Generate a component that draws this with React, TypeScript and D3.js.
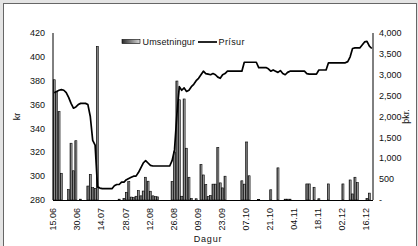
import React from 'react';
import * as d3 from 'd3';

const tickLabels = ['15.06','30.06','14.07','28.07','12.08','26.08','09.09','23.09','07.10','21.10','04.11','18.11','02.12','16.12'];
const leftTicks = [280,300,320,340,360,380,400,420];
const rightTicks = [0,500,1000,1500,2000,2500,3000,3500,4000];

const price = [
  370,371,372,372.5,372,370,366,361,357,358,
  360,361,361,361,360,350,330,326,291,290,
  289.5,289.5,289.5,289.5,289.5,292,293,293,295,295,
  297,298,299,300,300,303,307,311,313,311,
  309,308.5,308.5,308.5,308.5,308.5,308.5,308.5,308.5,313,
  322,352,375,372,374,371,372,375,377,380,
  382,385,388,386,385.5,385,386,385,383,382,
  385,386,388,388,388,388,388,388,388,395.5,
  395.5,395.5,395.5,395.5,395.5,391,391,391,391,390,
  388,389,388,387,388.5,386,385,387,388,388,
  388,388,388,388,388,386,385.5,385.5,385.5,385.5,
  389,389,389,389,395,395,395,395,395,395,
  395,395,396,400,407,407.5,407.5,407.5,410,412.5,
  413,409,407
];

const volume = [
  2880,2600,2115,640,0,0,250,1360,700,1420,
  0,20,0,0,335,615,295,280,3680,0,
  0,0,0,0,0,0,0,20,0,40,
  185,440,70,60,90,225,100,215,545,450,
  210,100,80,75,0,0,0,0,0,440,
  1150,2850,2400,90,2420,1240,545,40,0,30,
  0,850,600,370,80,110,380,380,1260,410,
  290,570,0,0,0,0,0,0,460,380,
  1390,580,0,0,0,15,0,0,0,0,
  245,0,0,770,0,0,20,20,20,0,
  0,0,0,0,0,385,385,0,305,0,
  30,0,0,0,385,0,0,0,0,0,
  385,0,0,480,145,545,415,0,0,0,
  40,165,0
];

const FONT = "'Liberation Sans', Arial, sans-serif";

export default function App() {
  const W = 418, H = 246;
  const left = 53, right = 373, top = 33, bottom = 200;
  const idx = d3.range(price.length);
  const x = d3.scaleBand<number>().domain(idx).range([left, right]).padding(0);
  const bw = x.bandwidth();
  const cx = (i: number) => (x(i) as number) + bw / 2;
  const yL = d3.scaleLinear().domain([280, 420]).range([bottom, top]);
  const yR = d3.scaleLinear().domain([0, 4000]).range([bottom, top]);
  const line = d3.line<number>().x((_, i) => cx(i)).y(d => yL(d));
  const fmt = d3.format(',');
  const barW = bw * 0.85;

  return (
    <svg width={W} height={H} style={{ position: 'absolute', left: 0, top: 0 }} fontFamily={FONT}>
      <defs>
        <linearGradient id="barGrad" x1="0" y1="0" x2="1" y2="0">
          <stop offset="0" stopColor="#2a2a2a" />
          <stop offset="1" stopColor="#d8d8d8" />
        </linearGradient>
      </defs>
      <rect x={0} y={0} width={W} height={H} fill="#e4e4e4" />
      <rect x={3.5} y={3.5} width={413} height={252} fill="#fff" stroke="#666" strokeWidth={1} />

      {/* volume bars */}
      {volume.map((v, i) => v > 0 ? (
        <rect key={i} x={cx(i) - barW / 2} y={yR(v)} width={barW} height={bottom - yR(v)}
          fill="url(#barGrad)" stroke="#000" strokeWidth={0.6} />
      ) : null)}

      {/* price line */}
      <path d={line(price) || ''} fill="none" stroke="#000" strokeWidth={1.7} strokeLinejoin="round" />

      {/* axes */}
      <line x1={left} x2={left} y1={top} y2={bottom} stroke="#000" strokeWidth={1} />
      <line x1={right} x2={right} y1={top} y2={bottom} stroke="#000" strokeWidth={1} />
      <line x1={left} x2={right} y1={bottom + 0.5} y2={bottom + 0.5} stroke="#000" strokeWidth={1} />

      {leftTicks.map(t => (
        <text key={t} x={45} y={yL(t)} dy="0.35em" textAnchor="end" fontSize={9} fill="#111">{t}</text>
      ))}
      {rightTicks.map(t => (
        <text key={t} x={379} y={yR(t)} dy="0.35em" textAnchor="start" fontSize={9} fill="#111">{t === 0 ? '-' : fmt(t)}</text>
      ))}
      {tickLabels.map((lab, k) => {
        const px = cx(k * 10) - 1;
        return (
          <text key={lab} transform={`translate(${px},${208}) rotate(-90)`} dy="0.35em" textAnchor="end" fontSize={9} fill="#111">{lab}</text>
        );
      })}

      <text transform={`translate(20,${(top + bottom) / 2}) rotate(-90)`} textAnchor="middle" fontSize={9} fill="#111">kr</text>
      <text transform={`translate(409,${(top + bottom) / 2}) rotate(-90)`} textAnchor="middle" fontSize={9} fill="#111">þkr.</text>
      <text x={208} y={242} textAnchor="middle" fontSize={9} letterSpacing={0.8} fill="#111">Dagur</text>

      {/* legend */}
      <rect x={122} y={39.5} width={18} height={4} fill="url(#barGrad)" stroke="#000" strokeWidth={0.6} />
      <text x={142.5} y={45} fontSize={9} letterSpacing={0.15} fill="#111">Umsetningur</text>
      <line x1={198} x2={217} y1={42} y2={42} stroke="#000" strokeWidth={1.7} />
      <text x={218.5} y={45} fontSize={9} letterSpacing={0.4} fill="#111">Prísur</text>
    </svg>
  );
}
